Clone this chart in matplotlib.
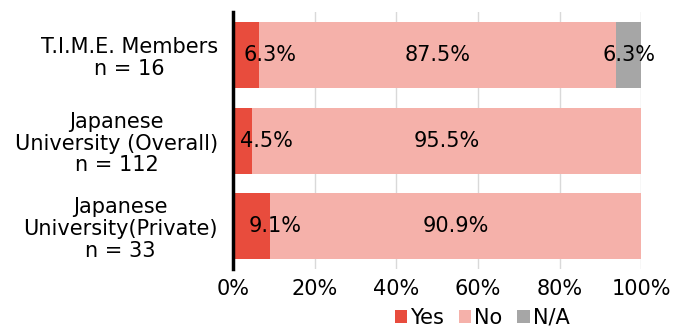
import numpy as np
import matplotlib
matplotlib.use("Agg")
from matplotlib import pyplot as plt

plt.rcParams['font.family'] = ['DejaVu Sans', 'Noto Sans CJK JP']

groups = ['T.I.M.E. Members\nn = 16',
          'Japanese\nUniversity (Overall)\nn = 112',
          'Japanese\nUniversity(Private)\nn = 33']
yes = [6.3, 4.5, 9.1]
no = [87.5, 95.5, 90.9]
na = [6.3, 0.0, 0.0]
ticks = [0, 20, 40, 60, 80, 100]

c_yes = '#E84C3D'
c_no = '#F5B1AA'
c_na = '#A6A6A6'

fig = plt.figure(figsize=(6.82, 3.27), dpi=100)
ax = fig.add_axes([0.342, 0.177, 0.598, 0.786])

y = np.arange(len(groups))
h = 0.77
ax.barh(y, yes, height=h, color=c_yes, label='Yes', zorder=2)
ax.barh(y, no, left=yes, height=h, color=c_no, label='No', zorder=2)
left_na = np.array(yes) + np.array(no)
ax.barh(y, na, left=left_na, height=h, color=c_na, label='N/A', zorder=2)

fs = 15
for i in range(len(groups)):
    ax.annotate(f'{yes[i]:.1f}%', (yes[i] / 2, y[i]), xytext=(17, 0),
                textcoords='offset points', ha='center', va='center',
                fontsize=fs, zorder=3)
    ax.text(yes[i] + no[i] / 2, y[i], f'{no[i]:.1f}%', ha='center',
            va='center', fontsize=fs, zorder=3)
    if na[i] > 0:
        ax.text(left_na[i] + na[i] / 2, y[i], f'{na[i]:.1f}%', ha='center',
                va='center', fontsize=fs, zorder=3)

ax.set_xlim(0, 100)
ax.set_ylim(len(groups) - 0.5, -0.5)
ax.set_xticks(ticks)
ax.set_xticklabels([f'{t}%' for t in ticks], fontsize=fs)
ax.set_yticks(y)
ax.set_yticklabels(groups, fontsize=fs, ha='right', multialignment='center',
                   linespacing=1.12)
ax.tick_params(axis='y', length=0, pad=11)
ax.tick_params(axis='x', length=0, pad=7)
ax.grid(axis='x', color='#D9D9D9', linewidth=1, zorder=0)
for s in ['top', 'right', 'bottom']:
    ax.spines[s].set_visible(False)
ax.spines['left'].set_linewidth(2.5)
ax.spines['left'].set_zorder(4)

fig.legend(loc='center', bbox_to_anchor=(0.707, 0.028), ncol=3, frameon=False,
           fontsize=fs, handlelength=0.6, handleheight=0.6, handletextpad=0.15,
           columnspacing=0.7, borderpad=0)

fig.savefig('out.png', dpi=100)
